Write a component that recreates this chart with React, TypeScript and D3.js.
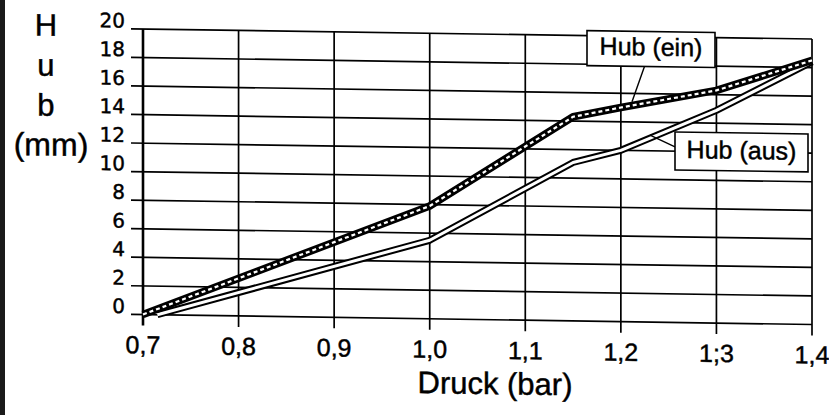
import React from "react";
import * as d3 from "d3";

const xTicks = [0.7, 0.8, 0.9, 1.0, 1.1, 1.2, 1.3, 1.4];
const xTickLabels = ["0,7", "0,8", "0,9", "1,0", "1,1", "1,2", "1;3", "1,4"];
const yTicks = [0, 2, 4, 6, 8, 10, 12, 14, 16, 18, 20];

const einDruck = [0.7, 1.0, 1.15, 1.2, 1.3, 1.4];
const einHub = [0, 7.9, 14.3, 15.0, 16.3, 18.5];
const ausDruck = [0.715, 1.0, 1.15, 1.2, 1.3, 1.4];
const ausHub = [0, 5.5, 11.1, 12.0, 14.9, 18.4];

const yTitle = ["H", "u", "b", "(mm)"];
const xTitle = "Druck (bar)";

const W = 829;
const H = 415;

export default function App() {
  const x = d3.scaleLinear().domain([0.7, 1.4]).range([143, 812]);
  const y = d3.scaleLinear().domain([0, 20]).range([314.5, 29]);
  const line = d3
    .line<[number, number]>()
    .x((d) => x(d[0]))
    .y((d) => y(d[1]));
  const einPts = einDruck.map((d, i) => [d, einHub[i]] as [number, number]);
  const ausPts = ausDruck.map((d, i) => [d, ausHub[i]] as [number, number]);
  const einPath = line(einPts) || "";
  const ausPath = line(ausPts) || "";
  const x0 = x(0.7);
  const ax = "Liberation Sans, Arial, Helvetica, sans-serif";
  const ts = { stroke: "#000", strokeWidth: 0.45 };

  return (
    <svg
      width={W}
      height={H}
      style={{ position: "absolute", left: 0, top: 0, background: "#fff" }}
    >
      <rect x={0} y={0} width={W} height={H} fill="#fff" />
      <rect x={0} y={0} width={5} height={H} fill="#1a1a1a" />
      <g transform={`translate(${x0},0) skewY(0.856) translate(${-x0},0)`}>
        {yTicks.map((t) => (
          <line
            key={"h" + t}
            x1={x0 - 12}
            x2={x(1.4)}
            y1={y(t)}
            y2={y(t)}
            stroke="#000"
            strokeWidth={1.7}
          />
        ))}
        {xTicks.map((t) => (
          <line
            key={"v" + t}
            x1={x(t)}
            x2={x(t)}
            y1={y(20)}
            y2={y(0) + 11}
            stroke="#000"
            strokeWidth={t === 0.7 ? 2.6 : 1.7}
          />
        ))}
        {yTicks.map((t) => (
          <text
            key={"yl" + t}
            x={125}
            y={y(t) - 1}
            textAnchor="end"
            fontFamily="DejaVu Sans, sans-serif"
            fontSize={20}
            fill="#000"
            {...ts}
          >
            {t}
          </text>
        ))}
        {xTicks.map((t, i) => (
          <text
            key={"xl" + t}
            x={x(t)}
            y={y(0) + 39}
            textAnchor="middle"
            fontFamily={ax}
            fontSize={25}
            fill="#000"
            {...ts}
          >
            {xTickLabels[i]}
          </text>
        ))}
        <path d={ausPath} fill="none" stroke="#000" strokeWidth={7} strokeLinejoin="round" />
        <path d={ausPath} fill="none" stroke="#fff" strokeWidth={3} strokeLinejoin="round" />
        <path d={einPath} fill="none" stroke="#000" strokeWidth={7.5} strokeLinejoin="round" />
        <path
          d={einPath}
          fill="none"
          stroke="#fff"
          strokeWidth={2.2}
          strokeDasharray="4 3"
          strokeLinejoin="round"
        />
        <line x1={645} y1={57.5} x2={632} y2={94.5} stroke="#000" strokeWidth={1.4} />
        <rect x={587} y={24} width={128} height={35} fill="#fff" stroke="#000" strokeWidth={1.6} />
        <text x={651} y={48} textAnchor="middle" fontFamily={ax} fontSize={25} fill="#000" {...ts}>
          Hub (ein)
        </text>
        <line x1={675} y1={139} x2={650} y2={127.5} stroke="#000" strokeWidth={1.4} />
        <rect x={675} y={124} width={133} height={38} fill="#fff" stroke="#000" strokeWidth={1.6} />
        <text x={741.5} y={150} textAnchor="middle" fontFamily={ax} fontSize={25} fill="#000" {...ts}>
          Hub (aus)
        </text>
        <text x={495} y={389} textAnchor="middle" fontFamily={ax} fontSize={31} fill="#000" {...ts}>
          {xTitle}
        </text>
        {yTitle.map((s, i) => (
          <text
            key={"yt" + i}
            x={i === 3 ? 51 : 46}
            y={37 + i * 40}
            textAnchor="middle"
            fontFamily={ax}
            fontSize={i === 3 ? 32 : 31}
            fill="#000"
            {...ts}
          >
            {s}
          </text>
        ))}
      </g>
    </svg>
  );
}
